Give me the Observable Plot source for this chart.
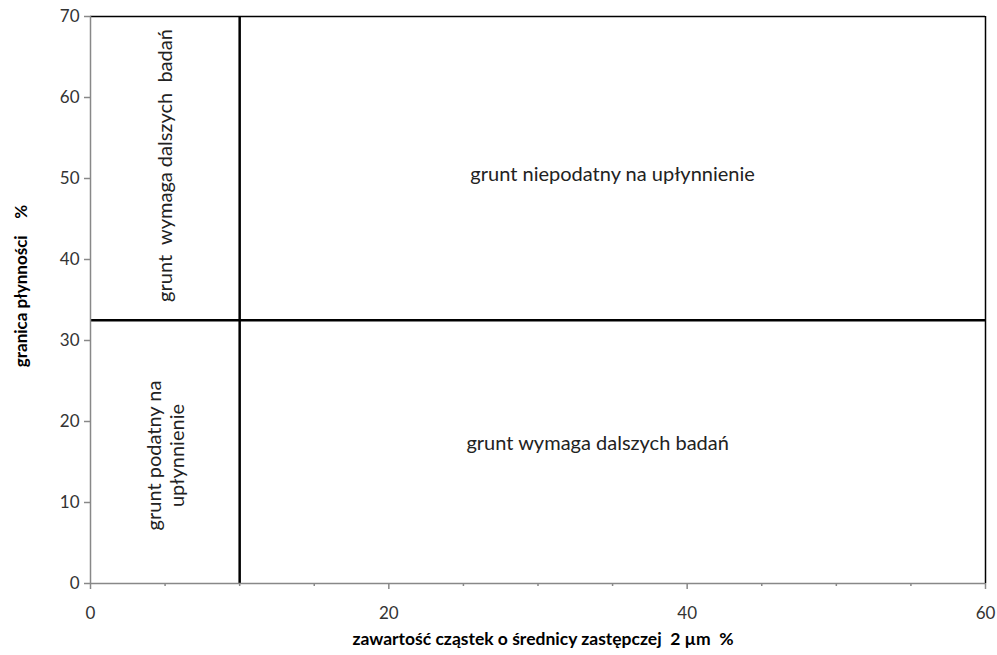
<!DOCTYPE html>
<html>
<head>
<meta charset="utf-8">
<script src="https://cdn.jsdelivr.net/npm/d3@7"></script>
<script src="https://cdn.jsdelivr.net/npm/@observablehq/plot@0.6"></script>
<style>
  html, body { margin: 0; padding: 0; background: #fff; }
  #chart svg { display: block; }
</style>
</head>
<body>
<div id="chart"></div>
<script>
// Domain and tick values
const xDomain = [0, 60];
const yDomain = [0, 70];
const xMajorTicks = [0, 20, 40, 60];
const xMinorTicks = [5, 10, 15, 25, 30, 35, 45, 50, 55];
const yTicks = [0, 10, 20, 30, 40, 50, 60, 70];

// Threshold lines
const clayThreshold = [10];          // % of particles < 2 µm
const liquidLimitThreshold = [32.5]; // liquid limit %

// Region labels (horizontal)
const hLabelText = ["grunt niepodatny na upłynnienie", "grunt wymaga dalszych badań"];
const hLabelX = [35, 34];
const hLabelY = [50.5, 17.3];

// Region labels (rotated)
const vLabelText = ["grunt\u00a0 wymaga dalszych\u00a0 badań", "grunt podatny na\nupłynnienie"];
const vLabelX = [5, 5];
const vLabelY = [51.6, 15.8];

const xTitle = "zawartość cząstek o średnicy zastępczej\u00a0 2 µm\u00a0 %";
const yTitle = "granica płynności\u00a0\u00a0\u00a0 %";

const hLabels = hLabelText.map((t, i) => ({text: t, x: hLabelX[i], y: hLabelY[i]}));
const vLabels = vLabelText.map((t, i) => ({text: t, x: vLabelX[i], y: vLabelY[i]}));

const font = "Lato, 'Open Sans', sans-serif";

const chart = Plot.plot({
  width: 997,
  height: 655,
  marginLeft: 90,
  marginRight: 12,
  marginTop: 16,
  marginBottom: 72,
  style: {fontFamily: font, background: "#fff"},
  x: {domain: xDomain},
  y: {domain: yDomain},
  marks: [
    // minor x ticks
    Plot.axisX({ticks: xMinorTicks, tickSize: 3, tickFormat: () => "", stroke: "#888", strokeWidth: 1.5, label: null}),
    // major x ticks
    Plot.axisX({ticks: xMajorTicks, tickSize: 6, tickPadding: 17, stroke: "#888", strokeWidth: 1.5,
      fontSize: 17, fill: "#333", label: null}),
    Plot.axisY({ticks: yTicks, tickSize: 6, tickPadding: 5, stroke: "#888", strokeWidth: 1.5,
      fontSize: 17, fill: "#333", label: null}),
    // frame top/right
    Plot.ruleY([yDomain[1]], {stroke: "#000", strokeWidth: 1.5}),
    Plot.ruleX([xDomain[1]], {stroke: "#000", strokeWidth: 1.5}),
    // thresholds
    Plot.ruleX(clayThreshold, {stroke: "#000", strokeWidth: 2.5}),
    Plot.ruleY(liquidLimitThreshold, {stroke: "#000", strokeWidth: 2.5}),
    // axis lines (grey)
    Plot.ruleX([xDomain[0]], {stroke: "#888", strokeWidth: 1.5}),
    Plot.ruleY([yDomain[0]], {stroke: "#888", strokeWidth: 1.5}),
    // labels
    Plot.text(hLabels, {x: "x", y: "y", text: "text", fontSize: 20, fill: "#222"}),
    Plot.text(vLabels, {x: "x", y: "y", text: "text", fontSize: 20, fill: "#222", rotate: -90, lineHeight: 1.15}),
    // axis titles
    Plot.text([xTitle], {frameAnchor: "bottom", textAnchor: "middle", dy: 61, dx: 5, text: d => d,
      fontSize: 17.5, fontWeight: "bold", fill: "#000"}),
    Plot.text([yTitle], {frameAnchor: "left", textAnchor: "middle", dx: -69, dy: -14, text: d => d,
      fontSize: 17, fontWeight: "bold", fill: "#000", rotate: -90})
  ]
});
document.getElementById("chart").appendChild(chart);
</script>
</body>
</html>
